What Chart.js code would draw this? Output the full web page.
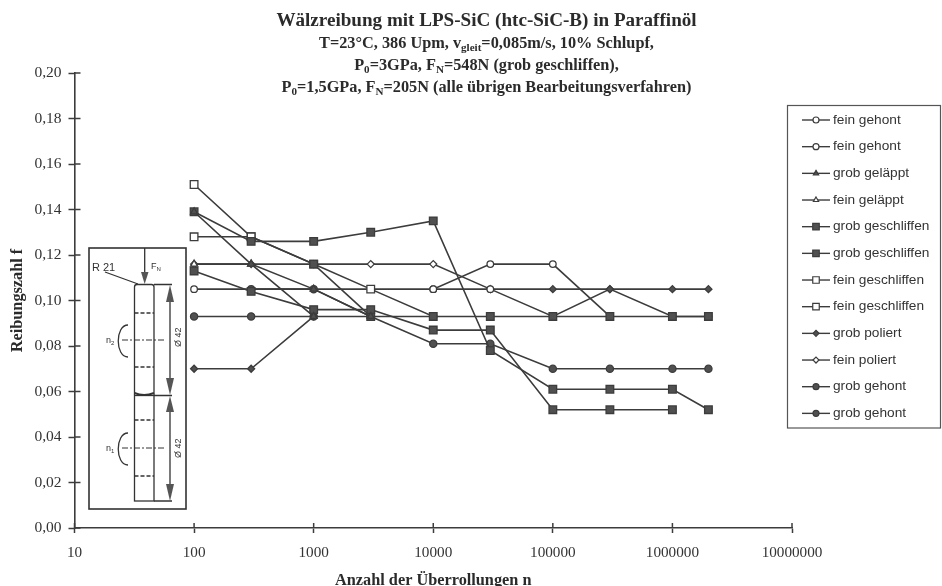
<!DOCTYPE html>
<html>
<head>
<meta charset="utf-8">
<title>Wälzreibung</title>
<script src="https://cdn.jsdelivr.net/npm/chart.js@4"></script>
<style>
    html, body { margin: 0; padding: 0; background: #fff; }
    #wrap { position: relative; width: 942px; height: 586px; overflow: hidden; }
    #chart { position: absolute; left: 0; top: 0; }
    .head { position: absolute; left: 0; width: 973px; text-align: center; color: #2b2b2b;
            font-family: "Liberation Serif", serif; font-weight: bold; white-space: nowrap; }
    .head sub { font-size: 0.68em; line-height: 0; vertical-align: -0.25em; }
    #inset { position: absolute; left: 0; top: 0; }
</style>
</head>
<body>
<div id="wrap">
    <canvas id="chart" width="942" height="586"></canvas>
    <div class="head" style="top:9px;font-size:19.1px">Wälzreibung mit LPS-SiC (htc-SiC-B) in Paraffinöl</div>
    <div class="head" style="top:33px;font-size:16.3px">T=23°C, 386 Upm, v<sub>gleit</sub>=0,085m/s, 10% Schlupf,</div>
    <div class="head" style="top:55px;font-size:16.3px">P<sub>0</sub>=3GPa, F<sub>N</sub>=548N (grob geschliffen),</div>
    <div class="head" style="top:77px;font-size:16.3px">P<sub>0</sub>=1,5GPa, F<sub>N</sub>=205N (alle übrigen Bearbeitungsverfahren)</div>

    <!-- sketch of the two rollers -->
    <svg id="inset" width="942" height="586" fill="none" stroke="#333" stroke-width="1.3">
        <rect x="89" y="248" width="97" height="261" stroke-width="1.6"/>
        <path d="M134.5 395 V287 Q134.5 284.5 137 284.5 H151.5 Q154 284.5 154 287 V395"/>
        <path d="M134.5 393 Q144 397 154 393" stroke-width="2"/>
        <rect x="134.5" y="395.5" width="19.5" height="105.5"/>
        <g stroke-dasharray="4 2">
            <path d="M134.5 313 H154 M134.5 367 H154 M134.5 420 H154 M134.5 476 H154"/>
        </g>
        <g stroke-dasharray="6 2 2 2" stroke-width="1">
            <path d="M122 340 H164 M122 448 H165"/>
        </g>
        <path d="M144.7 248 V274 M105 272 L138 284 M154 284.5 H172 M154 395.5 H172 M154 501 H172 M170 295 V385 M170 405 V490"/>
        <path d="M128 325 C115 325 115 357 128 357 M128 433 C115 433 115 465 128 465"/>
        <g fill="#555" stroke="none">
            <polygon points="141,272 148.5,272 144.7,284"/>
            <polygon points="166,302 174,302 170,285"/>
            <polygon points="166,378 174,378 170,395"/>
            <polygon points="166,412 174,412 170,396"/>
            <polygon points="166,484 174,484 170,501"/>
        </g>
        <g fill="#333" stroke="none" font-family="Liberation Sans, sans-serif">
            <text x="92" y="271" font-size="11">R 21</text>
            <text x="151" y="269" font-size="9">F<tspan font-size="6" dy="2">N</tspan></text>
            <text x="106" y="343" font-size="9">n<tspan font-size="6" dy="2">2</tspan></text>
            <text x="106" y="451" font-size="9">n<tspan font-size="6" dy="2">1</tspan></text>
            <text transform="translate(181,347) rotate(-90)" font-size="9">Ø 42</text>
            <text transform="translate(181,458) rotate(-90)" font-size="9">Ø 42</text>
        </g>
    </svg>
</div>

<script>
const overrollings = [100, 300, 1000, 3000, 10000, 30000, 100000, 300000, 1000000, 2000000];
const xTicks = [10, 100, 1000, 10000, 100000, 1000000, 10000000];

const feinGehont1 = [0.105, null, null, null, 0.105, 0.116, 0.116, 0.093, null, null];
const feinGehont2 = [null, null, null, null, 0.105, 0.105, null, null, null, null];
const grobGelaeppt = [0.139, 0.116, 0.093, null, null, null, null, null, null, null];
const feinGelaeppt = [0.116, 0.116, 0.105, 0.093, null, null, null, null, null, null];
const grobGeschliffen1 = [0.139, 0.126, 0.126, 0.130, 0.135, 0.078, 0.061, 0.061, 0.061, 0.052];
const grobGeschliffen2 = [0.113, 0.104, 0.096, 0.096, 0.087, 0.087, 0.052, 0.052, 0.052, null];
const feinGeschliffen1 = [0.151, 0.128, 0.116, 0.105, 0.093, 0.093, 0.093, 0.093, 0.093, 0.093];
const feinGeschliffen2 = [0.128, 0.128, 0.116, 0.093, null, null, null, null, null, null];
const grobPoliert = [0.070, 0.070, 0.093, null, null, 0.105, 0.105, 0.105, 0.105, 0.105];
const feinPoliert = [0.116, 0.116, 0.116, 0.116, 0.116, 0.105, 0.093, 0.105, 0.093, 0.093];
const grobGehont1 = [0.093, 0.093, 0.093, 0.093, 0.093, null, null, null, null, null];
const grobGehont2 = [null, 0.105, 0.105, 0.093, 0.081, 0.081, 0.070, 0.070, 0.070, 0.070];

const ink = '#3c3c3c';
const fill = '#505050';

function series(label, values, pointStyle, radius, open, spanGaps, order) {
    return {
        label,
        data: overrollings.map((n, i) => ({ x: n, y: values[i] })),
        pointStyle,
        pointRadius: radius,
        borderColor: ink,
        borderWidth: 1.6,
        pointBorderColor: ink,
        pointBorderWidth: 1.3,
        // the scan shows some "fein" points filled in
        pointBackgroundColor: ctx => (open && open.includes(overrollings[ctx.dataIndex])) ? '#fff' : fill,
        spanGaps: spanGaps !== false,
        order: order || 0,
        tension: 0
    };
}

const datasets = [
    series('fein gehont', feinGehont1, 'circle', 3.3, overrollings, true, 1),
    series('fein gehont', feinGehont2, 'circle', 3.3, overrollings),
    series('grob geläppt', grobGelaeppt, 'triangle', 4, null),
    series('fein geläppt', feinGelaeppt, 'triangle', 4, [100]),
    series('grob geschliffen', grobGeschliffen1, 'rect', 5.4, null),
    series('grob geschliffen', grobGeschliffen2, 'rect', 5.4, null),
    series('fein geschliffen', feinGeschliffen1, 'rect', 5.4, [100, 300, 3000]),
    series('fein geschliffen', feinGeschliffen2, 'rect', 5.4, [100, 300]),
    series('grob poliert', grobPoliert, 'rectRot', 3.5, null, false),
    series('fein poliert', feinPoliert, 'rectRot', 3.5, overrollings),
    series('grob gehont', grobGehont1, 'circle', 3.6, null),
    series('grob gehont', grobGehont2, 'circle', 3.6, null)
];

// ticks in the original cross the axis, chart.js only draws the outer half
const crossTicks = {
    id: 'crossTicks',
    afterDraw(c) {
        const g = c.ctx;
        const { x, y } = c.scales;
        g.save();
        g.strokeStyle = ink;
        g.lineWidth = 1.5;
        g.beginPath();
        y.ticks.forEach(t => {
            const py = y.getPixelForValue(t.value);
            g.moveTo(c.chartArea.left, py);
            g.lineTo(c.chartArea.left + 6, py);
        });
        x.ticks.forEach(t => {
            const px = x.getPixelForValue(t.value);
            g.moveTo(px, c.chartArea.bottom);
            g.lineTo(px, c.chartArea.bottom - 5);
        });
        g.stroke();
        g.restore();
    }
};

// legend box on the right with a line through each marker
const boxLegend = {
    id: 'boxLegend',
    afterDraw(c) {
        const g = c.ctx;
        g.save();
        g.strokeStyle = '#555';
        g.lineWidth = 1.2;
        g.strokeRect(787.5, 105.5, 153, 322.5);
        g.font = '13.7px "Liberation Sans", Arial, sans-serif';
        g.textBaseline = 'middle';
        c.data.datasets.forEach((d, i) => {
            const ly = 120 + i * 26.67;
            g.strokeStyle = ink;
            g.lineWidth = 1.4;
            g.beginPath();
            g.moveTo(802, ly);
            g.lineTo(830, ly);
            g.stroke();
            g.fillStyle = (d.label.startsWith('fein')) ? '#fff' : fill;
            g.lineWidth = 1.2;
            Chart.helpers.drawPoint(g, { pointStyle: d.pointStyle, radius: d.pointStyle === 'rect' ? 4.6 : 3, rotation: 0, borderWidth: 1.2 }, 816, ly);
            g.fillStyle = '#333';
            g.fillText(d.label, 833, ly);
        });
        g.restore();
    }
};

new Chart(document.getElementById('chart').getContext('2d'), {
    type: 'line',
    data: { datasets },
    plugins: [crossTicks, boxLegend],
    options: {
        responsive: false,
        animation: false,
        layout: { padding: { left: 0, top: 73, right: 150, bottom: 0 } },
        plugins: { legend: { display: false }, tooltip: { enabled: false } },
        scales: {
            x: {
                type: 'logarithmic',
                min: 10,
                max: 10000000,
                afterBuildTicks: s => { s.ticks = xTicks.map(v => ({ value: v })); },
                afterFit: s => { s.height = 58; },
                grid: { drawOnChartArea: false, tickLength: 5, tickColor: ink, tickWidth: 1.5 },
                border: { color: ink, width: 1.6 },
                ticks: {
                    autoSkip: false,
                    maxRotation: 0,
                    padding: 11,
                    color: '#333',
                    font: { family: '"Liberation Serif", serif', size: 15.2 },
                    callback: v => String(v)
                },
                title: {
                    display: true,
                    text: 'Anzahl der Überrollungen n',
                    color: '#2b2b2b',
                    padding: { top: 0, bottom: -5 },
                    font: { family: '"Liberation Serif", serif', size: 16.3, weight: 'bold' }
                }
            },
            y: {
                min: 0,
                max: 0.2,
                afterFit: s => { s.width = 74.5; },
                grid: { drawOnChartArea: false, tickLength: 6, tickColor: ink, tickWidth: 1.5 },
                border: { color: ink, width: 1.6 },
                ticks: {
                    stepSize: 0.02,
                    padding: 7,
                    color: '#333',
                    font: { family: '"Liberation Serif", serif', size: 15.5 },
                    callback: v => v.toFixed(2).replace('.', ',')
                },
                title: {
                    display: true,
                    text: 'Reibungszahl f',
                    color: '#2b2b2b',
                    padding: { top: 8, bottom: 0 },
                    font: { family: '"Liberation Serif", serif', size: 16.3, weight: 'bold' }
                }
            }
        }
    }
});
</script>
</body>
</html>
